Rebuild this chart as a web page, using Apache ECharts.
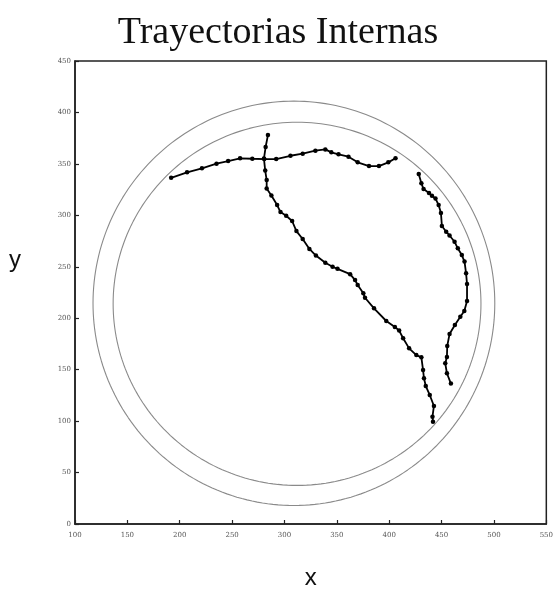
<!DOCTYPE html>
<html>
<head>
<meta charset="utf-8">
<script src="https://cdn.jsdelivr.net/npm/echarts@6/dist/echarts.min.js"></script>
<style>
  html, body { margin: 0; padding: 0; background: #fff; }
  #chart { width: 556px; height: 595px; }
</style>
</head>
<body>
<div id="chart"></div>
<script>
// Trajectory samples (x, y) in arena coordinates
const trayectoriaA = [
  [191.8, 336.5], [207.0, 341.8], [221.2, 345.7], [235.1, 350.2], [246.2, 352.8],
  [257.6, 355.4], [269.3, 355.0], [280.7, 354.7], [292.1, 354.7], [305.7, 357.9],
  [317.4, 359.9], [329.5, 362.8], [339.0, 364.1], [344.7, 361.2], [351.6, 359.3],
  [361.1, 357.0], [369.9, 351.5], [380.7, 347.9], [390.2, 347.9], [399.1, 351.5],
  [406.0, 355.4]
];
const trayectoriaB = [
  [284.2, 378.0], [282.0, 366.4], [280.4, 355.2], [281.6, 343.5], [283.0, 334.3],
  [283.0, 326.0], [287.5, 319.2], [293.0, 310.0], [296.2, 303.2], [301.6, 299.6],
  [307.3, 294.5], [311.4, 284.7], [317.4, 277.0], [323.8, 267.3], [330.0, 260.9],
  [339.0, 253.9], [345.9, 250.0], [350.6, 248.0], [362.7, 242.8], [367.4, 237.1],
  [369.9, 232.3], [375.3, 224.2], [376.9, 219.9], [385.5, 209.6], [397.2, 197.3],
  [405.4, 191.4], [409.5, 188.0], [413.3, 180.5], [419.0, 170.7], [425.9, 164.2],
  [430.7, 162.0], [432.3, 149.7], [433.2, 141.6], [434.9, 134.1], [438.7, 125.4],
  [442.7, 114.7], [441.3, 104.3], [441.8, 99.4]
];
const trayectoriaC = [
  [428.2, 340.1], [430.7, 331.1], [432.8, 325.6], [438.0, 321.7], [440.8, 319.0],
  [444.2, 316.3], [447.2, 310.0], [449.4, 302.2], [450.3, 289.6], [454.4, 284.1],
  [457.6, 280.4], [462.4, 274.3], [465.5, 267.9], [469.3, 261.4], [471.9, 255.1],
  [473.4, 243.6], [474.3, 233.2], [474.3, 216.7], [471.7, 207.0], [467.9, 201.5],
  [462.7, 193.4], [457.6, 184.6], [455.4, 173.0], [455.1, 162.3], [453.5, 156.2],
  [455.1, 146.5], [458.9, 136.5]
];

// Arena walls: centre (x, y) and semi-axes (rx, ry) in data units
const paredInterna = { centro: [312, 214], radio: [175.6, 176.5] };
const paredExterna = { centro: [309, 214.5], radio: [191.8, 196.5] };

const xTicks = { min: 100, max: 550, step: 50 };
const yTicks = { min: 0, max: 450, step: 50 };

// Outline of a wall as a closed polyline in data space
function contorno(pared, n) {
  const pts = [];
  for (let i = 0; i <= n; i++) {
    const t = (i / n) * 2 * Math.PI;
    pts.push([pared.centro[0] + pared.radio[0] * Math.cos(t),
              pared.centro[1] + pared.radio[1] * Math.sin(t)]);
  }
  return pts;
}

function serieTrayectoria(nombre, datos) {
  return {
    name: nombre,
    type: 'line',
    data: datos,
    symbol: 'circle',
    symbolSize: 4.5,
    showSymbol: true,
    lineStyle: { color: '#000', width: 1.8 },
    itemStyle: { color: '#000' },
    z: 5,
    animation: false
  };
}

function seriePared(nombre, pared) {
  return {
    name: nombre,
    type: 'line',
    data: contorno(pared, 240),
    showSymbol: false,
    lineStyle: { color: '#8a8a8a', width: 1.1 },
    z: 3,
    animation: false,
    silent: true
  };
}

const chart = echarts.init(document.getElementById('chart'), null, { renderer: 'canvas' });

const tickLabel = {
  fontFamily: 'DejaVu Serif',
  fontSize: 7,
  color: '#555'
};

chart.setOption({
  backgroundColor: '#fff',
  animation: false,
  title: {
    text: 'Trayectorias Internas',
    left: 'center',
    top: 9,
    textStyle: {
      fontFamily: 'Liberation Serif',
      fontWeight: 'normal',
      fontSize: 38,
      color: '#111'
    }
  },
  // y-axis caption sits above the axis midpoint
  graphic: [{
    type: 'text',
    left: 9,
    top: 248,
    style: {
      text: 'y',
      fontFamily: 'Liberation Sans',
      fontSize: 24,
      fill: '#111'
    }
  }],
  grid: {
    left: 75, right: 7, top: 61, bottom: 71,
    show: true,
    borderColor: '#222',
    borderWidth: 1.5,
    backgroundColor: '#fff'
  },
  xAxis: {
    type: 'value',
    min: xTicks.min, max: xTicks.max, interval: xTicks.step,
    name: 'x',
    nameLocation: 'middle',
    nameGap: 42,
    nameTextStyle: { fontFamily: 'Liberation Sans', fontSize: 24, color: '#111' },
    axisLine: { show: true, lineStyle: { color: '#222', width: 1.5 } },
    axisTick: { show: true, inside: true, length: 4, lineStyle: { color: '#222', width: 1.2 } },
    axisLabel: Object.assign({ margin: 8 }, tickLabel),
    splitLine: { show: false }
  },
  yAxis: {
    type: 'value',
    min: yTicks.min, max: yTicks.max, interval: yTicks.step,
    axisLine: { show: true, lineStyle: { color: '#222', width: 1.5 } },
    axisTick: { show: true, inside: true, length: 4, lineStyle: { color: '#222', width: 1.2 } },
    axisLabel: Object.assign({ margin: 4 }, tickLabel),
    splitLine: { show: false }
  },
  series: [
    seriePared('Pared externa', paredExterna),
    seriePared('Pared interna', paredInterna),
    serieTrayectoria('Trayectoria A', trayectoriaA),
    serieTrayectoria('Trayectoria B', trayectoriaB),
    serieTrayectoria('Trayectoria C', trayectoriaC)
  ]
});
</script>
</body>
</html>
